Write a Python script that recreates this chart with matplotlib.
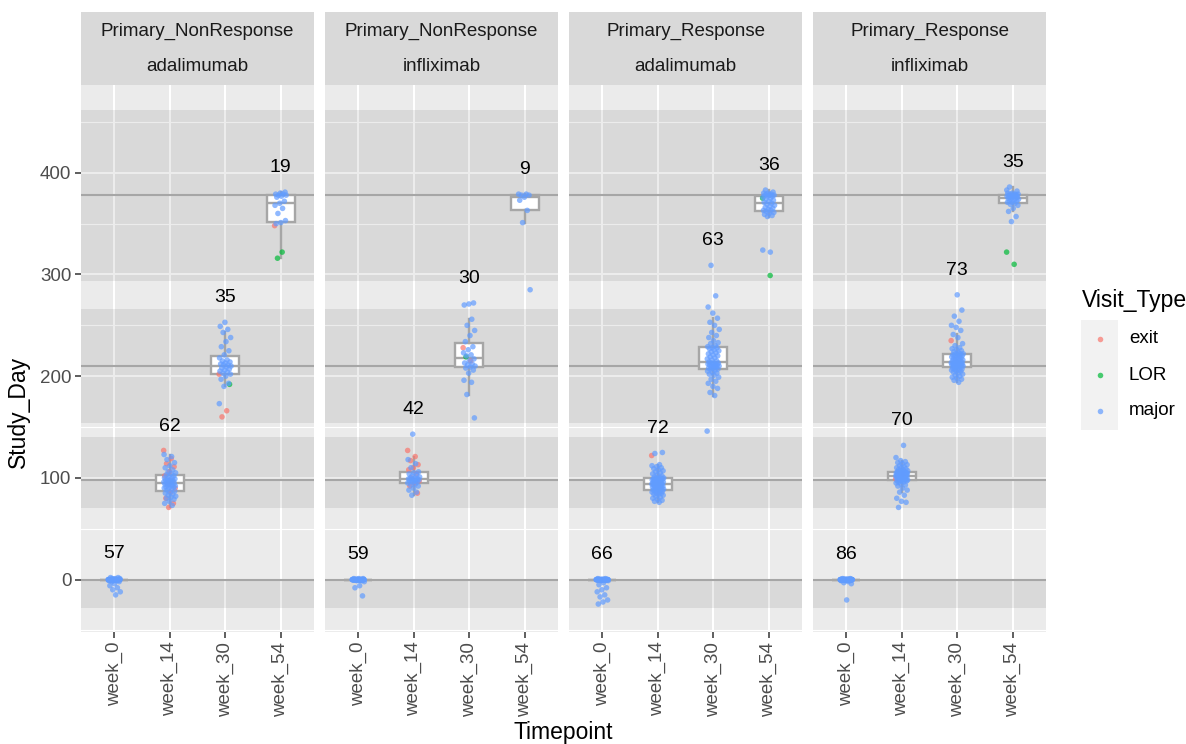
import numpy as np
import matplotlib.pyplot as plt
from matplotlib.patches import Rectangle

plt.rcParams['font.family'] = ['Liberation Sans', 'DejaVu Sans']

timepoints = ['week_0', 'week_14', 'week_30', 'week_54']
facet_response = ['Primary_NonResponse', 'Primary_NonResponse', 'Primary_Response', 'Primary_Response']
facet_drug = ['adalimumab', 'infliximab', 'adalimumab', 'infliximab']
visit_types = ['exit', 'LOR', 'major']
visit_colors = ['#F8766D', '#00BA38', '#619CFF']

# scheduled study day of each visit and its allowed window
target_day = [0, 98, 210, 378]
window_start = [-28, 70, 154, 294]
window_end = [0, 140, 266, 462]

# Study_Day per visit, one inner list per timepoint
nr_ada_major = [
    [0] * 41 + [1, 1, 1, 2, 2, -1, -1, -1, -2, -2, -4, -6, -8, -10, -12, -15],
    [123, 121, 118, 115, 112, 110, 108, 106, 105, 104, 103, 102, 101, 100, 100, 99, 99,
     98, 98, 97, 97, 96, 96, 95, 95, 94, 94, 93, 93, 92, 92, 91, 91, 90, 90, 89, 88,
     87, 86, 85, 84, 83, 82, 81, 80, 79, 77, 75, 73],
    [253, 249, 246, 243, 238, 234, 229, 225, 221, 218, 216, 215, 214, 213, 212, 211,
     211, 210, 209, 208, 207, 206, 205, 204, 203, 202, 200, 197, 193, 190, 173],
    [381, 380, 379, 379, 378, 378, 377, 376, 372, 370, 368, 365, 360, 353, 351, 350],
]
nr_ada_exit = [[], [127, 119, 114, 111, 106, 102, 97, 94, 90, 86, 80, 75, 71], [202, 166, 160], [348]]
nr_ada_lor = [[], [], [192], [322, 316]]

nr_ifx_major = [
    [0] * 50 + [1, 1, 1, -1, -1, -2, -6, -8, -16],
    [143, 118, 114, 110, 106, 105, 104, 103, 102, 101, 100, 100, 99, 99, 99, 98, 98, 98,
     97, 97, 96, 96, 95, 94, 93, 92, 90, 88, 86, 83],
    [272, 271, 270, 256, 250, 245, 240, 234, 229, 226, 223, 221, 220, 217, 215, 213, 212,
     211, 210, 209, 208, 206, 203, 196, 194, 182, 159],
    [379, 379, 378, 378, 376, 373, 363, 351, 285],
]
nr_ifx_exit = [[], [127, 121, 117, 113, 110, 108, 104, 100, 97, 95, 92, 85], [228, 215], []]
nr_ifx_lor = [[], [], [219], []]

r_ada_major = [
    [0] * 52 + [1, 1, -1, -1, -3, -5, -8, -10, -12, -15, -17, -20, -22, -24],
    [76, 77, 78, 79, 80, 81, 82, 83, 84, 84, 85, 85, 86, 86, 87, 87, 88, 88,
     88, 89, 89, 90, 90, 90, 91, 91, 91, 92, 92, 92, 93, 93, 93, 94, 94, 94,
     94, 95, 95, 95, 96, 96, 96, 97, 97, 97, 98, 98, 98, 99, 99, 99, 100, 100,
     100, 100, 101, 102, 103, 104, 105, 106, 107, 108, 109, 110, 111, 112, 113, 124, 125],
    [146, 181, 184, 188, 190, 193, 195, 197, 199, 201, 202, 203, 204, 205, 206, 207,
     207, 208, 208, 209, 209, 210, 210, 211, 211, 212, 212, 212, 213, 213, 213, 214,
     215, 216, 217, 218, 219, 220, 221, 222, 223, 224, 225, 226, 227, 228, 228,
     229, 230, 232, 233, 235, 238, 240, 243, 246, 250, 253, 257, 262, 268, 279, 309],
    [383, 381, 380, 380, 379, 379, 378, 378, 378, 377, 377, 376, 375, 374, 373, 372, 371,
     370, 369, 368, 367, 366, 365, 364, 363, 363, 362, 361, 360, 359, 358, 357, 324, 322],
]
r_ada_exit = [[], [122], [], []]
r_ada_lor = [[], [], [], [375, 299]]

r_ifx_major = [
    [0] * 78 + [1, 1, -1, -1, -2, -3, -4, -20],
    [71, 76, 77, 80, 83, 86, 88, 90, 92, 93, 94, 95, 96, 96, 97, 97, 97,
     98, 98, 98, 99, 99, 99, 100, 100, 100, 100, 101, 101, 101, 101, 102, 102,
     102, 102, 103, 103, 103, 103, 104, 104, 104, 104, 105, 105, 105, 105, 105, 105, 106,
     106, 106, 107, 107, 108, 108, 109, 110, 110, 111, 112, 113, 114, 115, 116, 117, 120, 132],
    [194, 196, 197, 198, 199, 200, 201, 202, 203, 204, 205, 205, 206, 206, 207, 207, 208, 208, 209,
     209, 210, 210, 210, 211, 211, 211, 211, 212, 212, 212, 212, 212, 213, 213, 213, 213,
     214, 214, 215, 215, 216, 216, 217, 217, 218, 218, 219, 219, 220, 220, 221, 221, 222, 222,
     222, 223, 224, 225, 226, 227, 228, 230, 232, 238, 241, 245, 248, 250, 254, 259, 265, 280],
    [386, 382, 380, 380, 379, 379, 379, 378, 378, 378, 377, 377, 377, 376, 376, 376, 375,
     375, 374, 374, 373, 372, 372, 371, 371, 370, 369, 368, 365, 362, 357, 352, 383],
]
r_ifx_exit = [[], [99, 104], [235], []]
r_ifx_lor = [[], [], [], [322, 310]]

facets = [
    (nr_ada_exit, nr_ada_lor, nr_ada_major),
    (nr_ifx_exit, nr_ifx_lor, nr_ifx_major),
    (r_ada_exit, r_ada_lor, r_ada_major),
    (r_ifx_exit, r_ifx_lor, r_ifx_major),
]

W, H = 1186, 744
fig = plt.figure(figsize=(W / 100, H / 100), dpi=100)


def px_box(x, y, w, h):
    return [x / W, 1 - (y + h) / H, w / W, h / H]


def spread(n, width=0.11):
    # evenly scattered horizontal offsets for the jittered dots
    return ((np.arange(n) * 0.618034) % 1.0 - 0.5) * 2 * width


panel_left = [81, 325, 569, 813]
panel_w = 233
panel_top, panel_h = 85, 547
strip_top, strip_h = 12, 73
box_grey = '#A6A6A6'
positions = np.arange(1, len(timepoints) + 1)

for k in range(4):
    ax = fig.add_axes(px_box(panel_left[k], panel_top, panel_w, panel_h))
    ax.set_facecolor('#EBEBEB')

    for lo, hi in zip(window_start, window_end):
        ax.axhspan(lo, hi, color='black', alpha=0.075, lw=0, zorder=0.8)
    for d in target_day:
        ax.axhline(d, color=box_grey, lw=1.5, zorder=1)

    by_type = facets[k]
    groups = [sum((by_type[t][i] for t in range(3)), []) for i in range(4)]
    ax.boxplot(groups, positions=positions, widths=0.5, showfliers=False,
               showcaps=False, patch_artist=True, manage_ticks=False, zorder=2,
               boxprops=dict(facecolor='white', edgecolor=box_grey, lw=1.7),
               medianprops=dict(color=box_grey, lw=1.7),
               whiskerprops=dict(color=box_grey, lw=1.7))

    for i in range(4):
        vals, cols = [], []
        for t in range(3):
            vals += by_type[t][i]
            cols += [visit_colors[t]] * len(by_type[t][i])
        x = positions[i] + spread(len(vals))
        ax.scatter(x, vals, s=16, c=cols, alpha=0.7, lw=0, zorder=3)
        ax.text(positions[i], max(groups[i]) + 24, str(len(groups[i])),
                ha='center', va='center', fontsize=14, zorder=4)

    ax.set_xlim(0.4, 4.6)
    ax.set_ylim(-51.5, 486.3)
    for s in ax.spines.values():
        s.set_visible(False)
    ax.set_yticks([0, 100, 200, 300, 400])
    ax.set_yticks([-50, 50, 150, 250, 350, 450], minor=True)
    ax.set_xticks(positions)
    ax.set_xticklabels(timepoints, rotation=90)
    ax.grid(which='major', color='white', lw=1.5)
    ax.grid(which='minor', axis='y', color='white', lw=0.8)
    ax.set_axisbelow(True)
    ax.tick_params(which='major', length=4, width=1.1, color='#333333',
                   labelsize=13.5, labelcolor='#4D4D4D', pad=3)
    ax.tick_params(which='minor', length=0)
    if k > 0:
        ax.tick_params(axis='y', left=False, labelleft=False)

    sax = fig.add_axes(px_box(panel_left[k], strip_top, panel_w, strip_h))
    sax.set_facecolor('#D9D9D9')
    sax.set_xticks([])
    sax.set_yticks([])
    for s in sax.spines.values():
        s.set_visible(False)
    sax.text(0.5, 0.74, facet_response[k], ha='center', va='center',
             fontsize=13.5, color='#1A1A1A', transform=sax.transAxes)
    sax.text(0.5, 0.25, facet_drug[k], ha='center', va='center',
             fontsize=13.5, color='#1A1A1A', transform=sax.transAxes)

fig.text(18 / W, 1 - 412 / H, 'Study_Day', rotation=90, ha='center', va='center', fontsize=16.5)
fig.text(563 / W, 1 - 733 / H, 'Timepoint', ha='center', va='center', fontsize=16.5)

# legend
fig.text(1082 / W, 1 - 301 / H, 'Visit_Type', ha='left', va='center', fontsize=16.5)
lax = fig.add_axes(px_box(1081, 320, 37, 110))
lax.set_xlim(0, 37)
lax.set_ylim(110, 0)
lax.axis('off')
lax.add_patch(Rectangle((0, 0), 37, 110, color='#F2F2F2', lw=0))
for j, (name, col) in enumerate(zip(visit_types, visit_colors)):
    ky = 19 + 36 * j
    lax.scatter([18.5], [ky], s=16, c=col, alpha=0.7, lw=0)
    fig.text(1129 / W, 1 - (320 + ky) / H, name, ha='left', va='center', fontsize=13.5)

fig.savefig('out.png', dpi=100)
